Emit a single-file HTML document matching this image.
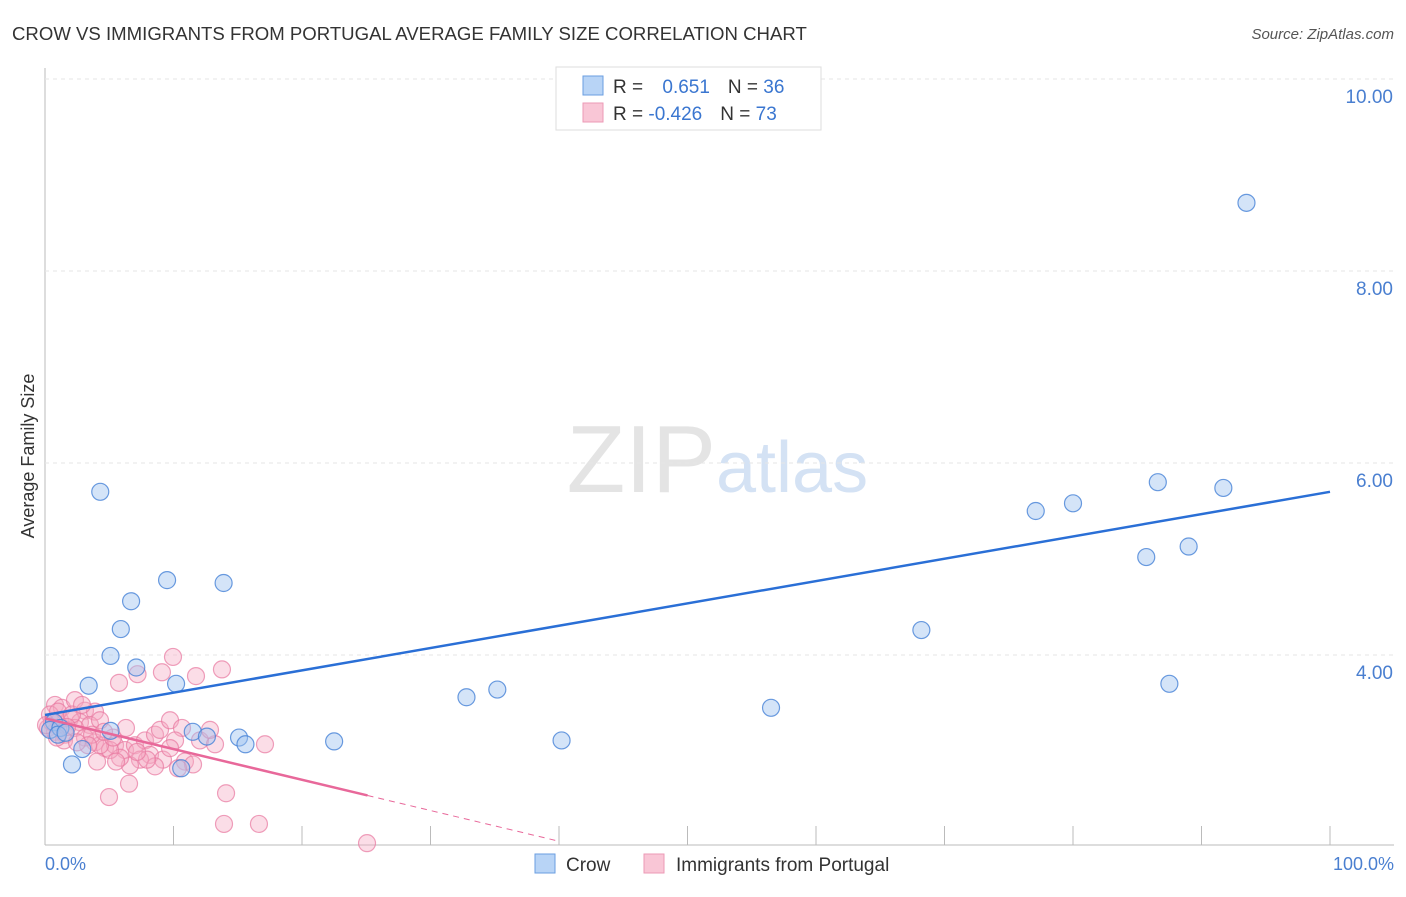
<!DOCTYPE html>
<html><head><meta charset="utf-8"><style>
body{margin:0;background:#fff;font-family:"Liberation Sans",sans-serif}
svg text{font-family:"Liberation Sans",sans-serif}
</style></head><body>
<svg id="c" width="1406" height="892" xmlns="http://www.w3.org/2000/svg">
<text x="12" y="40" font-size="18.6" fill="#333">CROW VS IMMIGRANTS FROM PORTUGAL AVERAGE FAMILY SIZE CORRELATION CHART</text>
<text x="1394" y="39" font-size="15" fill="#555" font-style="italic" text-anchor="end">Source: ZipAtlas.com</text>
<text x="716" y="492" font-size="96" fill="#e4e4e4" text-anchor="end" font-family="Liberation Serif">ZIP</text>
<text x="716" y="492" font-size="72" fill="#d4e2f4">atlas</text>
<text transform="translate(34,456) rotate(-90)" font-size="18" fill="#333" text-anchor="middle">Average Family Size</text>
<g id="grid"></g><g id="pts"></g><g id="lines"></g>
<text x="45" y="870" font-size="18" fill="#4a7fd0">0.0%</text>
<text x="1394" y="870" font-size="18" fill="#4a7fd0" text-anchor="end">100.0%</text>
<g>
<rect x="556" y="67" width="265" height="63" fill="#fff" stroke="#ddd"/>
<rect x="583" y="76" width="20" height="19" fill="#b8d4f6" stroke="#6a9ee0"/>
<rect x="583" y="103" width="20" height="19" fill="#f9c6d6" stroke="#ec9ab6"/>
<text x="613" y="93" font-size="19" fill="#333">R = <tspan fill="#3a76d0" dx="14">0.651</tspan><tspan dx="18">N = </tspan><tspan fill="#3a76d0">36</tspan></text>
<text x="613" y="120" font-size="19" fill="#333">R = <tspan fill="#3a76d0">-0.426</tspan><tspan dx="18">N = </tspan><tspan fill="#3a76d0">73</tspan></text>
</g>
<g>
<rect x="535" y="854" width="20" height="19" fill="#b8d4f6" stroke="#6a9ee0"/>
<text x="566" y="871" font-size="19" fill="#333">Crow</text>
<rect x="644" y="854" width="20" height="19" fill="#f9c6d6" stroke="#ec9ab6"/>
<text x="676" y="871" font-size="19" fill="#333">Immigrants from Portugal</text>
</g>
</svg>
<script>
const yTicks=[4,6,8,10];
const yTickLabels=["4.00","6.00","8.00","10.00"];
const xTicks=[0,10,20,30,40,50,60,70,80,90,100];
const crowX=[4.3,9.5,13.9,6.7,5.9,5.1,7.1,10.2,3.4,5.1,11.5,12.6,15.1,15.6,2.1,10.6,2.9,0.7,0.4,1.2,22.5,32.8,35.2,40.2,56.5,68.2,77.1,80.0,85.7,86.6,89.0,91.7,87.5,93.5,1.0,1.6];
const crowY=[5.70,4.78,4.75,4.56,4.27,3.99,3.87,3.70,3.68,3.21,3.20,3.15,3.14,3.07,2.86,2.82,3.02,3.30,3.22,3.24,3.10,3.56,3.64,3.11,3.45,4.26,5.50,5.58,5.02,5.80,5.13,5.74,3.70,8.71,3.17,3.19];
const portX=[9.96,9.1,7.2,5.76,11.75,13.77,0.78,1.32,2.33,3.11,3.89,0.39,1.17,1.95,2.72,3.5,4.28,0.23,0.78,1.56,2.33,3.11,3.89,4.67,5.45,6.23,7.0,7.78,8.56,8.95,9.73,10.66,8.17,7.39,6.61,5.84,5.06,4.28,4.05,9.18,10.12,10.89,8.56,12.06,13.23,17.12,12.84,14.09,4.98,6.54,13.93,16.65,25.06,3.66,3.35,1.48,0.54,0.08,1.01,2.1,2.88,1.71,2.49,5.29,6.3,7.94,7.16,5.53,11.52,10.35,4.59,0.93,9.73];
const portY=[3.98,3.82,3.80,3.71,3.78,3.85,3.48,3.45,3.53,3.42,3.41,3.38,3.32,3.34,3.30,3.27,3.32,3.24,3.20,3.17,3.24,3.14,3.09,3.03,3.06,3.01,3.06,3.11,3.17,3.22,3.32,3.24,2.96,2.91,2.85,2.93,3.01,3.06,2.89,2.91,3.11,2.89,2.84,3.11,3.07,3.07,3.22,2.56,2.52,2.66,2.24,2.24,2.04,3.17,3.06,3.11,3.30,3.27,3.41,3.38,3.48,3.25,3.09,3.14,3.24,2.91,2.99,2.89,2.86,2.82,3.20,3.14,3.03];
const crowTrend=[3.375,5.70];
const portTrend=[3.34,0.032];
const X=p=>45+p*12.85, Y=v=>79+(10-v)*96;
const NS="http://www.w3.org/2000/svg";
function mk(t,a,parent){const e=document.createElementNS(NS,t);for(const k in a)e.setAttribute(k,a[k]);document.getElementById(parent).appendChild(e);return e;}
let e=mk('line',{x1:45,y1:68,x2:45,y2:845,stroke:'#bbb'},'grid');


e=mk('line',{x1:45,y1:845,x2:1394,y2:845,stroke:'#bbb'},'grid');


yTicks.forEach((v,i)=>{
 let g=mk('line',{x1:45,y1:Y(v),x2:1394,y2:Y(v),stroke:'#e6e6e6','stroke-dasharray':'4,4'},'grid');
 
 
 let t=mk('text',{x:1393,y:Y(v)+24,'font-size':19,fill:'#4a7fd0','text-anchor':'end'},'grid');
 t.textContent=yTickLabels[i];
 
 
});
xTicks.forEach(p=>{
 let t=mk('line',{x1:X(p),y1:826,x2:X(p),y2:845,stroke:'#bbb'},'grid');
 
 
});
portX.forEach((p,i)=>{
 let c=mk('circle',{cx:X(p),cy:Y(portY[i]),r:8.5,fill:'rgba(245,170,195,0.4)',stroke:'rgba(232,120,160,0.7)','stroke-width':1.2},'pts');
 
 
});
crowX.forEach((p,i)=>{
 let c=mk('circle',{cx:X(p),cy:Y(crowY[i]),r:8.5,fill:'rgba(160,196,240,0.45)',stroke:'rgba(70,130,215,0.8)','stroke-width':1.2},'pts');
 
 
});
let l=mk('line',{x1:X(0),y1:Y(crowTrend[0]),x2:X(100),y2:Y(crowTrend[1]),stroke:'#2a6fd6','stroke-width':2.5},'lines');


const pv=x=>portTrend[0]-portTrend[1]*x;
l=mk('line',{x1:X(0),y1:Y(pv(0)),x2:X(25.1),y2:Y(pv(25.1)),stroke:'#e8689a','stroke-width':2.5},'lines');


l=mk('line',{x1:X(25.1),y1:Y(pv(25.1)),x2:X(40),y2:Y(pv(40)),stroke:'#e8689a','stroke-width':1,'stroke-dasharray':'6,5'},'lines');


</script>
</body></html>
